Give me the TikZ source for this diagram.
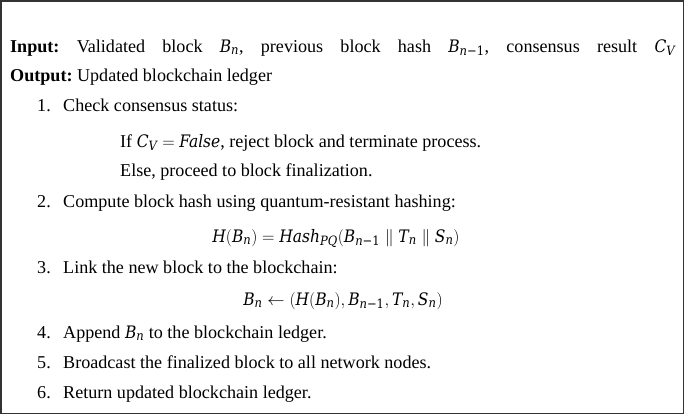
\documentclass[tikz,border=0pt]{standalone}
\usepackage{amsmath}
\usepackage{fontspec}
\setmainfont{Liberation Serif}
\newfontfamily\mfont{DejaVu Serif Condensed}[Scale=0.95]
\newcommand\mi[1]{\text{\mfont\itshape #1}}
\newcommand\ms[1]{\mbox{\fontsize{13.5}{14}\selectfont\mfont\itshape #1}}
\newcommand\msm{\mbox{\fontsize{13.5}{14}\selectfont\mfont\itshape n\upshape −1}}
\begin{document}
\begin{tikzpicture}[x=1pt,y=-1pt,
  font=\fontsize{18.1}{21}\selectfont\frenchspacing,
  txt/.style={anchor=base west, inner sep=0pt},
  eqn/.style={anchor=base, inner sep=0pt},
  frame/.style={draw=black!80, line width=1.4pt}]
\useasboundingbox (0,0) rectangle (685,415);
\draw[frame] (1,1) rectangle (683.5,413.5);
\node[txt] (in) at (10,52) {\makebox[665pt][s]{\textbf{Input:} Validated block $\mi{B}_{\ms{n}}$, previous block hash $\mi{B}_{\msm}$, consensus result $\mi{C}_{\ms{V}}$}};
\node[txt] (out) at (10,81) {\textbf{Output:} Updated blockchain ledger};
\node[txt] (n1) at (37,111) {1.};
\node[txt] (t1) at (63,111) {Check consensus status:};
\node[txt] (if) at (120,147) {If $\mi{C}_{\ms{V}} = \mi{False}$, reject block and terminate process.};
\node[txt] (else) at (120,176) {Else, proceed to block finalization.};
\node[txt] (n2) at (37,207) {2.};
\node[txt] (t2) at (63,207) {Compute block hash using quantum-resistant hashing:};
\node[eqn] (e1) at (336,242) {$\mi{H}(\mi{B}_{\ms{n}}) = \mi{Hash}_{\ms{PQ}}(\mi{B}_{\msm} \parallel \mi{T}_{\ms{n}} \parallel \mi{S}_{\ms{n}})$};
\node[txt] (n3) at (37,273) {3.};
\node[txt] (t3) at (63,273) {Link the new block to the blockchain:};
\node[eqn] (e2) at (343,305) {$\mi{B}_{\ms{n}} \leftarrow (\mi{H}(\mi{B}_{\ms{n}}), \mi{B}_{\msm}, \mi{T}_{\ms{n}}, \mi{S}_{\ms{n}})$};
\node[txt] (n4) at (37,338) {4.};
\node[txt] (t4) at (63,338) {Append $\mi{B}_{\ms{n}}$ to the blockchain ledger.};
\node[txt] (n5) at (37,368) {5.};
\node[txt] (t5) at (63,368) {Broadcast the finalized block to all network nodes.};
\node[txt] (n6) at (37,398) {6.};
\node[txt] (t6) at (63,398) {Return updated blockchain ledger.};
\end{tikzpicture}
\end{document}
